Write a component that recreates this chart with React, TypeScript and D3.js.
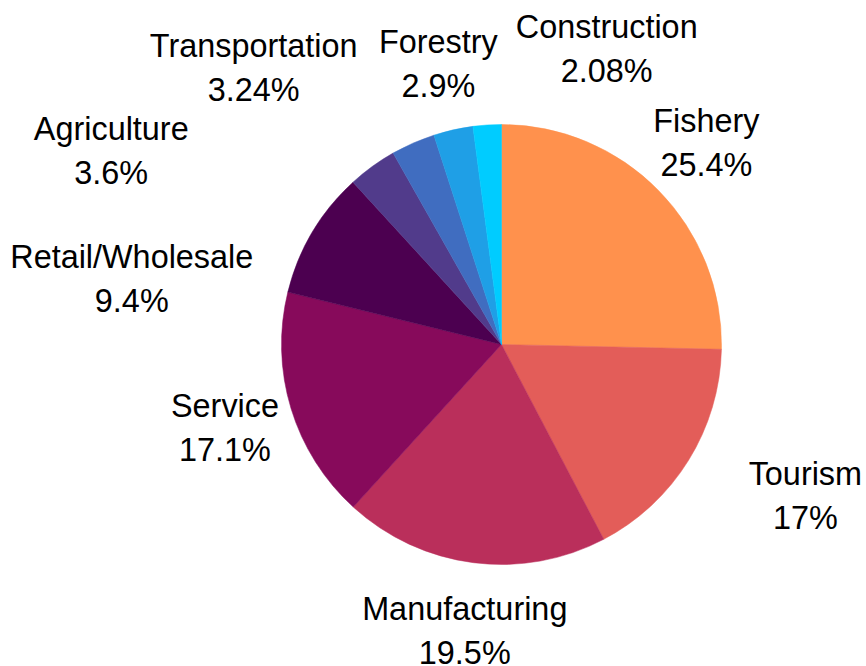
import React, { useEffect, useRef } from "react";
import * as d3 from "d3";

const categories = [
  "Fishery",
  "Tourism",
  "Manufacturing",
  "Service",
  "Retail/Wholesale",
  "Agriculture",
  "Transportation",
  "Forestry",
  "Construction",
];
const values = [25.4, 17, 19.5, 17.1, 9.4, 3.6, 3.24, 2.9, 2.08];
const valueLabels = ["25.4%", "17%", "19.5%", "17.1%", "9.4%", "3.6%", "3.24%", "2.9%", "2.08%"];
const colors = [
  "#FF914D",
  "#E35D59",
  "#BA2F5B",
  "#870A5B",
  "#4C0050",
  "#513B8B",
  "#406DC0",
  "#1F9FE6",
  "#00CCFF",
];

// label layout adjustments (collision avoidance), in px
const labelNudge: [number, number][] = [
  [-1, 0],
  [59, 0],
  [0, 1],
  [-1, 0],
  [-122, 81],
  [-221, 40],
  [-132, -13],
  [0, 0],
  [124, -8],
];

const W = 866;
const H = 666;
const CX = 501.5;
const CY = 344.5;
const R = 220;
const LABEL_R = 288;
const FONT = 32.4;
const LINE = 44;

export default function App() {
  const ref = useRef<SVGSVGElement | null>(null);

  useEffect(() => {
    const svg = d3.select(ref.current);
    svg.selectAll("*").remove();
    const g = svg.append("g").attr("transform", `translate(${CX},${CY})`);

    const data = categories.map((c, i) => ({ c, v: values[i], i }));
    const pie = d3
      .pie<any>()
      .value((d) => d.v)
      .sort(null)
      .startAngle(0)
      .endAngle(2 * Math.PI);
    const arcs = pie(data);
    const arc = d3.arc<any>().innerRadius(0).outerRadius(R);
    const labelArc = d3.arc<any>().innerRadius(LABEL_R).outerRadius(LABEL_R);

    g.selectAll("path.slice")
      .data(arcs)
      .enter()
      .append("path")
      .attr("class", "slice")
      .attr("d", arc as any)
      .attr("fill", (d: any) => colors[d.data.i])
      .attr("stroke", (d: any) => colors[d.data.i])
      .attr("stroke-width", 0.5);

    const labels = g
      .selectAll("text.lab")
      .data(arcs)
      .enter()
      .append("text")
      .attr("class", "lab")
      .attr("text-anchor", "middle")
      .attr("font-family", "'Liberation Sans', Arial, sans-serif")
      .attr("font-size", FONT)
      .attr("fill", "#000")
      .attr("transform", (d: any) => {
        const [x, y] = labelArc.centroid(d);
        const n = labelNudge[d.data.i];
        return `translate(${x + n[0]},${y + n[1]})`;
      });

    labels
      .append("tspan")
      .attr("x", 0)
      .attr("y", -11)
      .text((d: any) => d.data.c);
    labels
      .append("tspan")
      .attr("x", 0)
      .attr("y", -11 + LINE)
      .text((d: any) => valueLabels[d.data.i]);
  }, []);

  return (
    <svg
      ref={ref}
      width={W}
      height={H}
      style={{ position: "absolute", left: 0, top: 0, background: "#fff" }}
    />
  );
}
